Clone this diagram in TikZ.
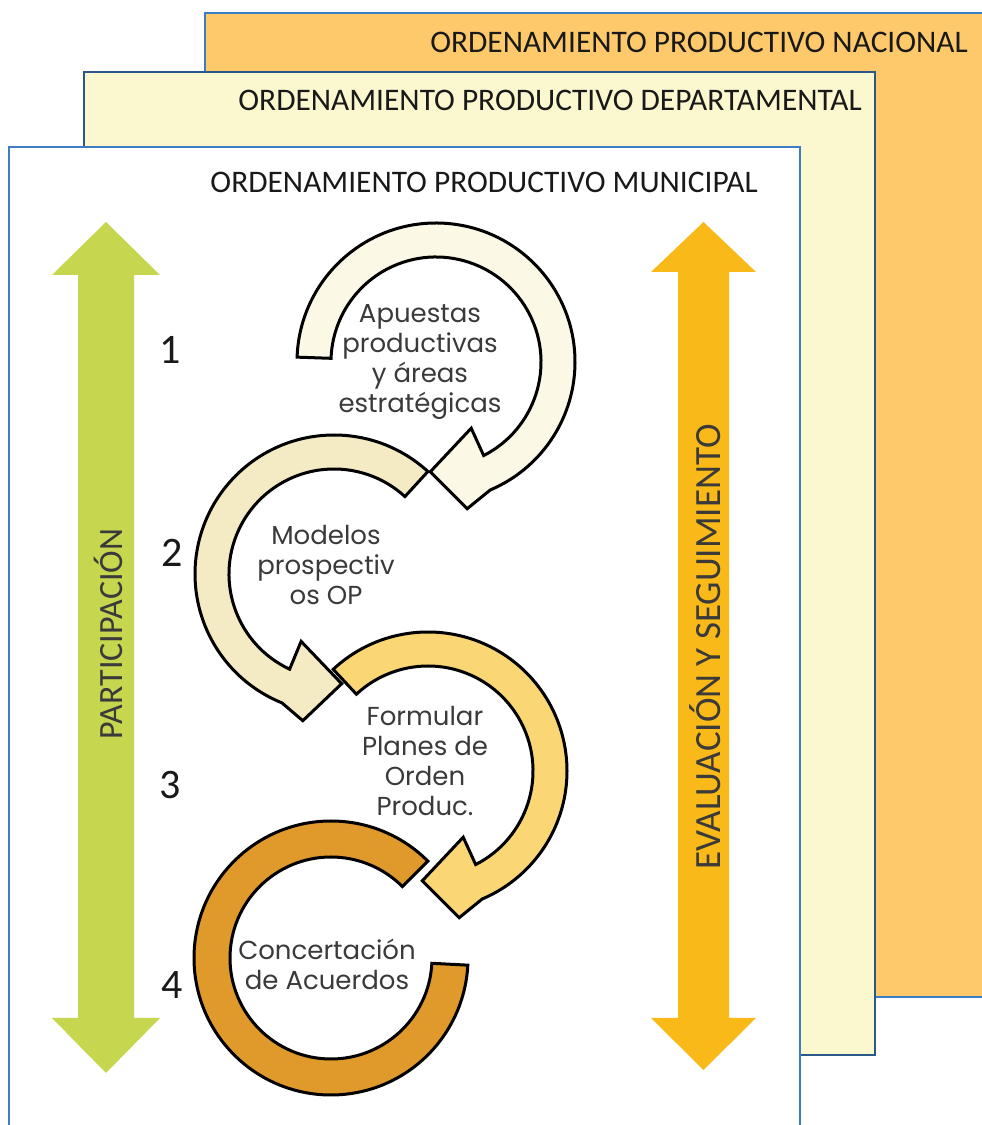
\documentclass[tikz,border=0pt]{standalone}
\usepackage{fontspec}
\setmainfont{Carlito}
\newfontfamily\gothic{Poppins}
\definecolor{nacfill}{HTML}{FDC96A}
\definecolor{depfill}{HTML}{FBF8D0}
\definecolor{panelblue}{HTML}{3C7DC4}
\definecolor{greenarr}{HTML}{C6D74F}
\definecolor{orangearr}{HTML}{F9B919}
\definecolor{aone}{HTML}{FCF8E6}
\definecolor{atwo}{HTML}{F4EAC4}
\definecolor{athree}{HTML}{FBD675}
\definecolor{afour}{HTML}{E0992B}
\definecolor{txtgray}{HTML}{3A3A3A}
\tikzset{
  panel/.style={draw=panelblue, line width=2},
  hdr/.style={inner sep=0, anchor=east, font=\fontsize{31.4}{36}\selectfont, text=black!90},
  sidelabel/.style={inner sep=0, rotate=90, font=\fontsize{34}{40}\selectfont, text=txtgray},
  numlabel/.style={inner sep=0, font=\fontsize{42}{48}\selectfont, text=black!90},
  arcband/.style={draw=black, line width=3, line join=miter},
  circtext/.style={inner sep=0, align=center, font=\gothic\fontsize{26}{30}\selectfont, text=txtgray}
}
\begin{document}
\begin{tikzpicture}[x=1pt,y=1pt]
\useasboundingbox (0,0) rectangle (982,1125);
\clip (0,0) rectangle (982,1125);
% panels
\draw[panel, fill=nacfill] (205,128) rectangle (1010,1112);
\draw[panel, draw=panelblue!70!black, fill=depfill] (84,70) rectangle (875,1053);
\draw[panel, fill=white] (9,-20) rectangle (800,978);
\node[hdr] (nac) at (968,1083) {ORDENAMIENTO PRODUCTIVO NACIONAL};
\node[hdr] (dep) at (862,1025) {ORDENAMIENTO PRODUCTIVO DEPARTAMENTAL};
\node[hdr] (mun) at (758,943) {ORDENAMIENTO PRODUCTIVO MUNICIPAL};
% side double arrows
\fill[greenarr] (106,903) -- (160,850) -- (134,850) -- (134,107) -- (160,107) -- (106,52)
  -- (52,107) -- (78,107) -- (78,850) -- (52,850) -- cycle;
\fill[orangearr] (703.5,903) -- (756,853) -- (729,853) -- (729,107) -- (756,107) -- (703.5,55)
  -- (651,107) -- (678,107) -- (678,853) -- (651,853) -- cycle;
\node[sidelabel] (part) at (108,491) {PARTICIPACIÓN};
\node[sidelabel, font=\fontsize{37}{42}\selectfont] (eval) at (705,478) {EVALUACIÓN Y SEGUIMIENTO};
% numbers
\node[numlabel] (n1) at (170,775) {1};
\node[numlabel] (n2) at (172,572) {2};
\node[numlabel] (n3) at (170,340) {3};
\node[numlabel] (n4) at (172,140) {4};
% circular arrows
\coordinate (c1) at (436,763);
\coordinate (c2) at (334,551);
\coordinate (c3) at (428,354);
\coordinate (c4) at (331,167);
% arc 4
\draw[arcband, fill=afour] ([shift={(c4)}]45:137) arc[start angle=45, end angle=357, radius=137]
  -- ([shift={(c4)}]357:101) arc[start angle=357, end angle=45, radius=101] -- cycle;
% arc 3
\draw[arcband, fill=athree] ([shift={(c3)}]133:139) arc[start angle=133, end angle=-67, radius=139]
  -- ([shift={(c3)}]-78:150) -- ([shift={(c3)}]-93:110) -- ([shift={(c3)}]-62:75)
  -- ([shift={(c3)}]-63:105) arc[start angle=-63, end angle=133, radius=105] -- cycle;
% arc 2
\draw[arcband, fill=atwo] ([shift={(c2)}]47.5:139) arc[start angle=47.5, end angle=248, radius=139]
  -- ([shift={(c2)}]258:150) -- ([shift={(c2)}]274:110) -- ([shift={(c2)}]244:75)
  -- ([shift={(c2)}]245:105) arc[start angle=245, end angle=47.5, radius=105] -- cycle;
% arc 1
\draw[arcband, fill=aone] ([shift={(c1)}]178:139) arc[start angle=178, end angle=-67, radius=139]
  -- ([shift={(c1)}]-78:150) -- ([shift={(c1)}]-93:110) -- ([shift={(c1)}]-62:75)
  -- ([shift={(c1)}]-63:105) arc[start angle=-63, end angle=178, radius=105] -- cycle;
% texts
\node[circtext] (t1) at (420,763) {Apuestas\\productivas\\y áreas\\estratégicas};
\node[circtext] (t2) at (326,560) {Modelos\\prospectiv\\os OP};
\node[circtext] (t3) at (425,364) {Formular\\Planes de\\Orden\\Produc.};
\node[circtext] (t4) at (327,161) {Concertación\\de Acuerdos};
\end{tikzpicture}
\end{document}
